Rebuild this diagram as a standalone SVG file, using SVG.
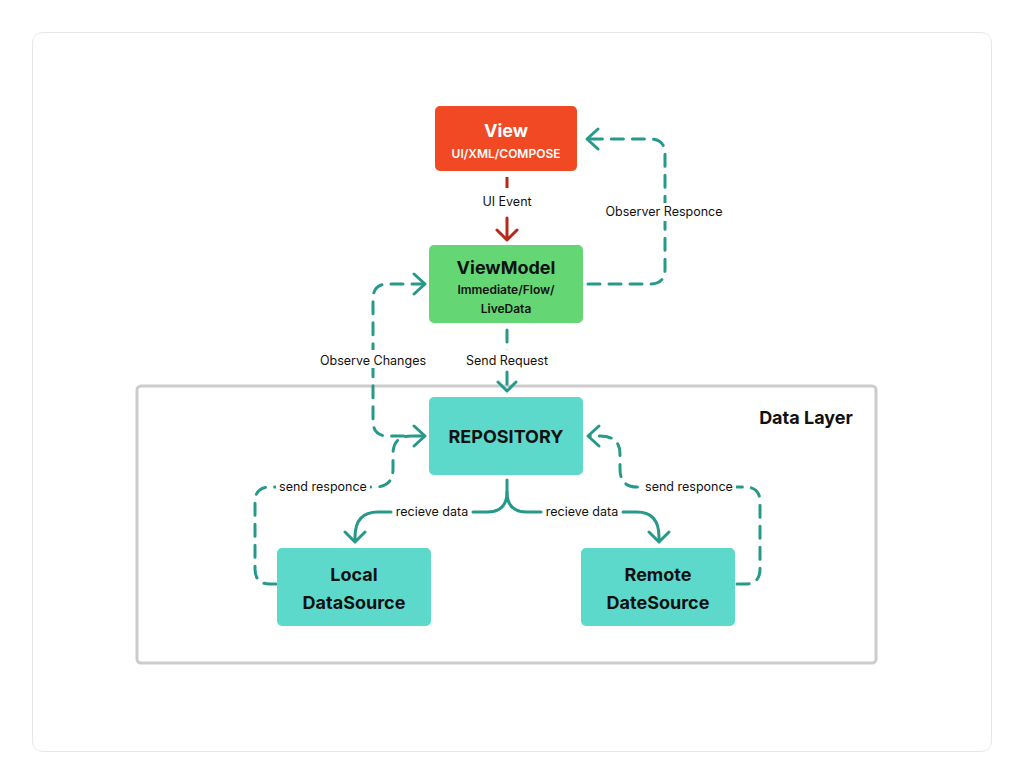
<svg xmlns="http://www.w3.org/2000/svg" width="1024" height="784" viewBox="0 0 1024 784">
<defs>
<style>
.t{font-family:Inter,"Liberation Sans",sans-serif;fill:#111}
.h{font-size:18px;font-weight:700;text-anchor:middle}
.s{font-size:12px;font-weight:600;text-anchor:middle}
.l{font-size:12.5px;text-anchor:middle}
.c{fill:none;stroke:#26998a;stroke-width:3;stroke-linecap:round;stroke-linejoin:round}
.d{stroke-dasharray:12 9}
.bg{fill:#fff}
</style>
</defs>
<rect x="0" y="0" width="1024" height="784" fill="#fff"/>
<rect x="32.5" y="32.5" width="959" height="719" rx="10" fill="#fff" stroke="#e6e6e6"/>
<g id="data-layer">
<rect x="137" y="386" width="739" height="277" rx="4" fill="none" stroke="#cccccc" stroke-width="3"/>
<text class="t" x="806" y="424" font-size="18" font-weight="700" text-anchor="middle">Data Layer</text>
</g>
<g id="connectors">
<path d="M507 177V188" stroke="#b52a1a" stroke-width="3" fill="none"/>
<path d="M507 218V240M497 230L507 240L517 230" stroke="#b52a1a" stroke-width="3" fill="none" stroke-linecap="round" stroke-linejoin="round"/>
<text class="t l" x="507" y="206">UI Event</text>
<path class="c d" d="M588 284H650Q665 284 665 269V154Q665 139 650 139H588"/>
<path class="c" d="M598 129L587 139L598 149"/>
<rect class="bg" x="600" y="203" width="128" height="18"/>
<text class="t l" x="664" y="216">Observer Responce</text>
<path class="c d" d="M424 284H388Q373 284 373 299V421Q373 436 388 436H424"/>
<path class="c" d="M414 274L425 284L414 294M414 426L425 436L414 446"/>
<rect class="bg" x="316" y="350" width="114" height="18"/>
<text class="t l" x="373" y="365">Observe Changes</text>
<path class="c d" d="M507 330V391"/>
<path class="c" d="M498 382L507 391L516 382"/>
<rect class="bg" x="460" y="350" width="94" height="18"/>
<text class="t l" x="507" y="365">Send Request</text>
<path class="c" d="M507 480V492Q507 512 487 512H473M391 512H378Q355 512 355 537V542M345 532L355 542L365 532"/>
<path class="c" d="M507 492Q507 512 527 512H541M623 512H637Q659 512 659 537V542M649 532L659 542L669 532"/>
<text class="t l" x="432" y="516">recieve data</text>
<text class="t l" x="582" y="516">recieve data</text>
<path class="c d" d="M276 584H270Q255 584 255 569V502Q255 487 270 487H375Q393 487 393 469V454Q393 436 411 436"/>
<path class="c d" d="M737 584H745Q760 584 760 569V502Q760 487 745 487H637Q620 487 620 469V454Q620 436 600 436H590"/>
<path class="c" d="M599 426L588 436L599 446"/>
<rect class="bg" x="276" y="479" width="94" height="17"/>
<text class="t l" x="323" y="491">send responce</text>
<rect class="bg" x="642" y="479" width="94" height="17"/>
<text class="t l" x="689" y="491">send responce</text>
</g>
<g id="view">
<rect x="435" y="106" width="142" height="65" rx="5" fill="#f04923"/>
<text class="h" x="506" y="137" font-family="Inter,'Liberation Sans',sans-serif" fill="#fff">View</text>
<text class="s" x="506" y="158" font-family="Inter,'Liberation Sans',sans-serif" fill="#fff" font-weight="500">UI/XML/COMPOSE</text>
</g>
<g id="viewmodel">
<rect x="429" y="245" width="154" height="78" rx="5" fill="#64d674"/>
<text class="t h" x="506" y="274">ViewModel</text>
<text class="t s" x="506" y="294">Immediate/Flow/</text>
<text class="t s" x="506" y="313">LiveData</text>
</g>
<g id="repository">
<rect x="429" y="397" width="154" height="78" rx="5" fill="#5cd9cb"/>
<text class="t h" x="506" y="443">REPOSITORY</text>
</g>
<g id="local">
<rect x="277" y="548" width="154" height="78" rx="5" fill="#5cd9cb"/>
<text class="t h" x="354" y="581">Local</text>
<text class="t h" x="354" y="609">DataSource</text>
</g>
<g id="remote">
<rect x="581" y="548" width="154" height="78" rx="5" fill="#5cd9cb"/>
<text class="t h" x="658" y="581">Remote</text>
<text class="t h" x="658" y="609">DateSource</text>
</g>
</svg>
